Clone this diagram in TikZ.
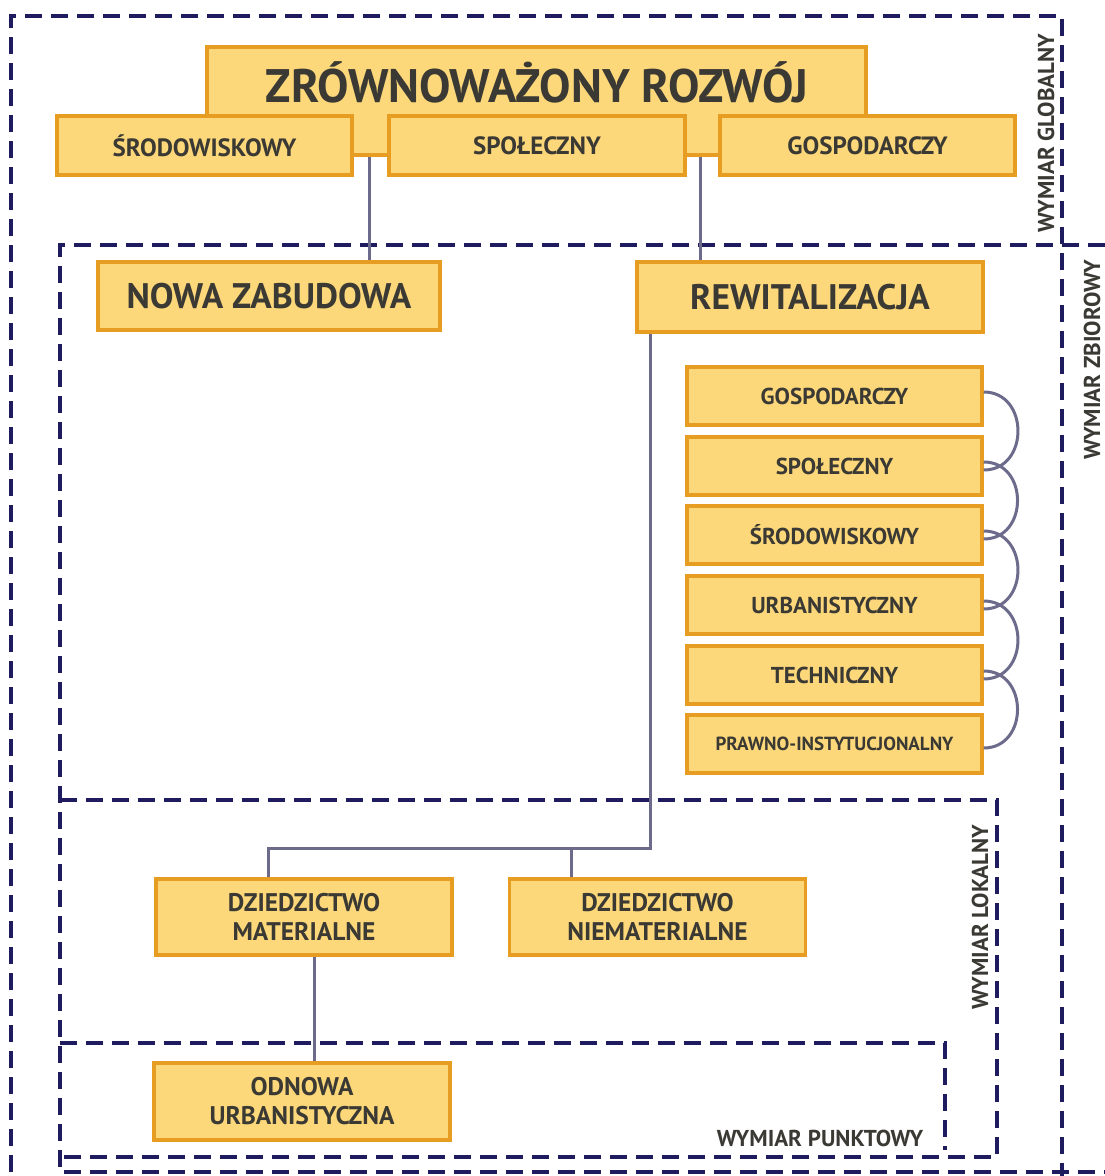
\documentclass[tikz,border=0pt]{standalone}
\usepackage{fontspec}
\setmainfont{PT Sans}
\definecolor{boxfill}{HTML}{FCD87A}
\definecolor{boxdraw}{HTML}{E79D22}
\definecolor{framec}{HTML}{1E1B5E}
\definecolor{connc}{HTML}{6C6B8C}
\definecolor{txt}{HTML}{3B3934}
\begin{document}
\begin{tikzpicture}[x=1pt,y=-1pt,
  box/.style={draw=boxdraw, fill=boxfill, line width=3.5pt, inner sep=0pt, text=txt, font=\bfseries, align=center},
  frm/.style={draw=framec, line width=4pt, dash pattern=on 17pt off 9pt},
  conn/.style={draw=connc, line width=3pt},
  lab/.style={text=txt, font=\bfseries\fontsize{23}{25}\selectfont, inner sep=0pt}]
\useasboundingbox (0,0) rectangle (1105,1176);
% frames
\draw[frm] (11,1172) -- (11,16) -- (1062,16) -- (1062,1176);
\draw[frm] (1105,245) -- (60,245) -- (60,1172) -- (1105,1172);
\draw[frm] (60,800) -- (997,800) -- (997,1157) -- (60,1157);
\draw[frm] (60,1043) -- (945,1043) -- (945,1150);
\node[lab, rotate=90] (lg) at (1046,133) {WYMIAR GLOBALNY};
\node[lab, rotate=90] (lz) at (1092,360) {WYMIAR ZBIOROWY};
\node[lab, rotate=90] (ll) at (980,917) {WYMIAR LOKALNY};
\node[lab] (lp) at (820,1138) {WYMIAR PUNKTOWY};
% top
\node[box, minimum width=659pt, minimum height=108pt] (title) at (536.5,101) {};
\node[text=txt, font=\bfseries\fontsize{47}{50}\selectfont, inner sep=0pt] (titletext) at (537,82) {ZRÓWNOWAŻONY ROZWÓJ};
\tikzset{sbox/.style={box, minimum height=59pt, font=\bfseries\fontsize{25}{28}\selectfont}}
\node[sbox, minimum width=295pt] (s1) at (204.5,145.5) {ŚRODOWISKOWY};
\node[sbox, minimum width=296pt] (s2) at (537,145.5) {SPOŁECZNY};
\node[sbox, minimum width=295pt] (s3) at (867.5,145.5) {GOSPODARCZY};
% second level
\node[box, minimum width=342pt, minimum height=68pt, font=\bfseries\fontsize{35.5}{38}\selectfont] (nz) at (269,296) {NOWA ZABUDOWA};
\node[box, minimum width=346pt, minimum height=70pt, font=\bfseries\fontsize{35.5}{38}\selectfont] (rw) at (810,297) {REWITALIZACJA};
\draw[conn] ([xshift=-167.5pt]title.south) -- ([xshift=-167.5pt]title.south |- nz.north);
\draw[conn] ([xshift=163.5pt]title.south) -- ([xshift=163.5pt]title.south |- rw.north);
% column
\tikzset{gbox/.style={box, minimum width=295pt, minimum height=58pt, font=\bfseries\fontsize{23}{26}\selectfont}}
\node[gbox] (g1) at (834.5,396) {GOSPODARCZY};
\node[gbox] (g2) at (834.5,466) {SPOŁECZNY};
\node[gbox] (g3) at (834.5,535) {ŚRODOWISKOWY};
\node[gbox] (g4) at (834.5,605) {URBANISTYCZNY};
\node[gbox] (g5) at (834.5,675) {TECHNICZNY};
\node[gbox, font=\bfseries\fontsize{19}{22}\selectfont] (g6) at (834.5,744) {PRAWNO-INSTYTUCJONALNY};
\foreach \a/\b in {g1/g2,g2/g3,g3/g4,g4/g5,g5/g6}{
  \draw[conn] ([yshift=4pt]\a.east) to[out=0,in=0,looseness=1.5] ([yshift=-4pt]\b.east);
}
% local
\tikzset{dbox/.style={box, minimum width=296pt, minimum height=76pt, font=\bfseries\fontsize{25.5}{29}\selectfont}}
\node[dbox] (dm) at (304,917) {DZIEDZICTWO\\MATERIALNE};
\node[dbox] (nm) at (657.5,917) {DZIEDZICTWO\\NIEMATERIALNE};
\node[dbox, minimum height=77pt] (od) at (302,1101.5) {ODNOWA\\URBANISTYCZNA};
\coordinate (j) at (571,848);
\draw[conn] ([xshift=-160pt]rw.south) |- ([xshift=-36pt]dm.north |- j) -- ([xshift=-36pt]dm.north);
\draw[conn] ([xshift=-86.5pt]nm.north) -- ([xshift=-86.5pt]nm.north |- j);
\draw[conn] ([xshift=10pt]dm.south) -- ([xshift=10pt]dm.south |- od.north);
\end{tikzpicture}
\end{document}
